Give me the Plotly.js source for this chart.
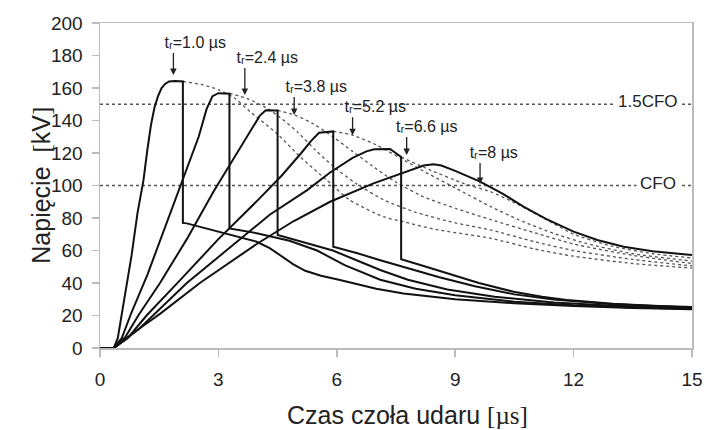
<!DOCTYPE html>
<html>
<head>
<meta charset="utf-8">
<script src="https://cdn.plot.ly/plotly-3.0.1.min.js"></script>
<style>html,body{margin:0;padding:0;background:#fff;}#chart{width:704px;height:430px;}</style>
</head>
<body>
<div id="chart"></div>
<script>
// Solid (chopped) waveforms, front time tf
const tf1_x = [0, 0.35, 0.45, 0.6, 0.8, 0.95, 1.1, 1.2, 1.29, 1.38, 1.47, 1.56, 1.65, 1.75, 1.9, 2.1, 2.1, 2.2, 3.0, 3.97, 4.3, 4.6, 4.9, 5.2, 5.6, 6.08, 7.0, 7.69, 9, 10.5, 12, 13.5, 15];
const tf1_y = [0, 0, 6, 27, 57, 83, 103, 122, 137, 148, 155, 160, 162.5, 164, 164.3, 164, 77, 76.7, 71.5, 65.4, 61.5, 56.5, 51.5, 47.5, 44.5, 41.8, 36.5, 33.6, 30, 27.5, 25.8, 24.6, 23.8];

const tf24_x = [0, 0.35, 0.55, 0.8, 1.2, 1.86, 2.5, 2.7, 2.85, 3.0, 3.28, 3.28, 4.0, 4.8, 5.5, 6.2, 7.1, 8, 9, 10.5, 12, 13.5, 15];
const tf24_y = [0, 0, 6, 22, 45, 88, 130, 147, 155, 156.8, 156.5, 73.6, 70.5, 66, 60, 51, 42, 36.5, 32.5, 28.5, 26.3, 25, 24.2];

const tf38_x = [0, 0.35, 0.65, 0.97, 1.52, 2.2, 2.87, 3.5, 3.85, 4.05, 4.2, 4.5, 4.5, 5.15, 5.9, 6.5, 7.1, 7.8, 8.8, 10, 11.5, 13, 15];
const tf38_y = [0, 0, 7, 20, 40, 67, 96, 121, 135, 143, 146.3, 146.2, 69.5, 65, 60, 54, 48, 42, 36, 31.5, 28, 26, 24.5];

const tf52_x = [0, 0.35, 0.7, 1.18, 2.0, 3.0, 4.0, 4.6, 5.1, 5.35, 5.55, 5.91, 5.91, 6.5, 7.1, 7.8, 8.6, 9.5, 10.5, 11.5, 13, 15];
const tf52_y = [0, 0, 6, 20, 41, 67, 91, 106, 120, 127.5, 132.5, 133.3, 62.3, 58.5, 54, 49, 43.5, 38, 33, 29.8, 27, 25];

const tf66_x = [0, 0.35, 1.0, 1.35, 2.2, 3.3, 4.3, 5.24, 5.83, 6.4, 6.75, 6.95, 7.35, 7.63, 7.63, 8.2, 8.79, 9.6, 10.48, 11.2, 11.83, 13, 14, 15];
const tf66_y = [0, 0, 12, 20, 40, 62, 82, 97, 108, 117, 121, 122.3, 122.5, 117.5, 54.6, 50.5, 46, 40, 34.6, 31.5, 29.5, 27.3, 26, 25.2];

const tf8_x = [0, 0.35, 1.0, 1.52, 2.53, 3.2, 3.97, 4.9, 5.83, 6.93, 7.6, 8.0, 8.2, 8.45, 8.65, 9.0, 9.63, 10.2, 10.73, 11.3, 12, 12.6, 13.27, 14, 15];
const tf8_y = [0, 0, 12, 21, 40, 51, 64, 78, 90, 101.3, 107, 110.5, 112.3, 113, 112.3, 109, 102.4, 95, 87, 79.5, 71.6, 66.5, 62.3, 59.5, 57.2];

// Dotted: unchopped continuations
const d1_x = [2.1, 2.6, 3.0, 3.4, 3.8, 4.48, 5.07, 5.74, 6.33, 7.18, 7.69, 8.5, 9.9, 11, 12, 13.5, 15];
const d1_y = [164, 162, 159, 154, 145.5, 132, 117.7, 103.4, 91, 80.8, 77.7, 73, 67.5, 61, 56.5, 52, 49.2];
const d2_x = [3.28, 3.72, 4.2, 4.56, 5.0, 5.45, 5.9, 6.5, 7.2, 8, 9, 9.9, 11, 12, 13.5, 15];
const d2_y = [156.7, 153.6, 148, 142, 133, 122, 112, 101, 91, 83.5, 77, 72.6, 65.5, 60, 54.5, 50.5];
const d3_x = [4.5, 4.93, 5.4, 5.9, 6.4, 6.9, 7.5, 8.2, 9, 9.9, 11, 12, 13.5, 15];
const d3_y = [146.3, 143.4, 138, 130, 121, 112, 102, 93, 86, 79, 71, 64, 57, 52];
const d4_x = [5.91, 6.4, 7.0, 7.6, 8.3, 9.0, 9.9, 10.7, 11.5, 12.3, 13.5, 15];
const d4_y = [133.3, 131, 125, 117, 107.5, 98.5, 87, 78, 70.5, 64.5, 58, 53.5];
const d5_x = [7.63, 8.37, 9.21, 9.89, 10.5, 11, 11.5, 12, 13, 14, 15];
const d5_y = [117.5, 109.5, 101.3, 96.2, 89.5, 83, 76.5, 70, 62.5, 58, 55.4];

// Reference levels
const refNames = ['1.5CFO', 'CFO'];
const refLevels = [150, 100];

// Front-time labels (arrow tips in data units, arrow length and label lead in px)
const labelTexts = ['tᵣ=1.0 µs', 'tᵣ=2.4 µs', 'tᵣ=3.8 µs', 'tᵣ=5.2 µs', 'tᵣ=6.6 µs', 'tᵣ=8 µs'];
const tipX = [1.86, 3.67, 4.92, 6.4, 7.77, 9.63];
const tipY = [168, 155.7, 143.4, 131, 118.8, 101];
const tipLen = [22, 27, 18, 18, 18, 21];
const leadSpaces = [10, 10, 10, 10, 9, 6];

const xTicks = [0, 3, 6, 9, 12, 15];
const yTicks = [0, 20, 40, 60, 80, 100, 120, 140, 160, 180, 200];

const traces = [];
refLevels.forEach((v, i) => {
  traces.push({x: [0, 15], y: [v, v], mode: 'lines', name: refNames[i],
    line: {color: '#555', width: 1.3, dash: 'dot'}, hoverinfo: 'skip'});
});
[[d1_x, d1_y], [d2_x, d2_y], [d3_x, d3_y], [d4_x, d4_y], [d5_x, d5_y]].forEach(([x, y]) => {
  traces.push({x, y, mode: 'lines', line: {color: '#555', width: 1.3, dash: 'dot', shape: 'spline', smoothing: 0.6}});
});
[[tf1_x, tf1_y], [tf24_x, tf24_y], [tf38_x, tf38_y], [tf52_x, tf52_y], [tf66_x, tf66_y], [tf8_x, tf8_y]].forEach(([x, y]) => {
  traces.push({x, y, mode: 'lines', line: {color: '#111', width: 2}});
});

const ann = [];
labelTexts.forEach((t, i) => {
  ann.push({x: tipX[i], y: tipY[i], text: '&nbsp;'.repeat(leadSpaces[i]) + t,
    showarrow: true, ax: 0, ay: -tipLen[i], xanchor: 'center', yanchor: 'bottom',
    arrowhead: 2, arrowsize: 1, arrowwidth: 1.3, arrowcolor: '#222',
    font: {family: 'Liberation Sans, DejaVu Sans', size: 16, color: '#222'}});
});
ann.push({x: 13.88, y: 151.6, text: refNames[0], showarrow: false, bgcolor: '#fff', borderpad: 3,
  font: {family: 'Liberation Sans, Arial', size: 17, color: '#222'}});
ann.push({x: 14.14, y: 101.5, text: refNames[1], showarrow: false, bgcolor: '#fff', borderpad: 3,
  font: {family: 'Liberation Sans, Arial', size: 17, color: '#222'}});
// axis titles
ann.push({xref: 'paper', yref: 'paper', x: 0.52, y: -0.206, yanchor: 'middle', showarrow: false,
  text: 'Czas czoła udaru <span style="font-family:Liberation Serif">[µs]</span>',
  font: {family: 'Liberation Sans, Arial', size: 25, color: '#222'}});
ann.push({xref: 'paper', yref: 'paper', x: -0.128, y: 0.5, textangle: -90, showarrow: false,
  text: 'Napięcie  <span style="font-family:Liberation Serif">[</span>kV<span style="font-family:Liberation Serif">]</span>',
  font: {family: 'Liberation Sans, Arial', size: 25, color: '#222'}});

const axisCommon = {showgrid: false, zeroline: false, showline: true, linecolor: '#bbb', linewidth: 1.5,
  mirror: true, ticks: 'outside', ticklen: 7, tickcolor: '#bbb', tickwidth: 1.5,
  tickfont: {family: 'Liberation Sans, Arial', size: 19, color: '#222'}};

const layout = {
  width: 704, height: 430,
  margin: {l: 100, r: 12, t: 23, b: 82},
  paper_bgcolor: '#fff', plot_bgcolor: '#fff',
  showlegend: false,
  xaxis: Object.assign({}, axisCommon, {range: [0, 15], tickvals: xTicks, ticklabelstandoff: 7}),
  yaxis: Object.assign({}, axisCommon, {range: [0, 200], tickvals: yTicks, ticklabelstandoff: 5}),
  annotations: ann
};

Plotly.newPlot('chart', traces, layout, {staticPlot: true});
</script>
</body>
</html>
